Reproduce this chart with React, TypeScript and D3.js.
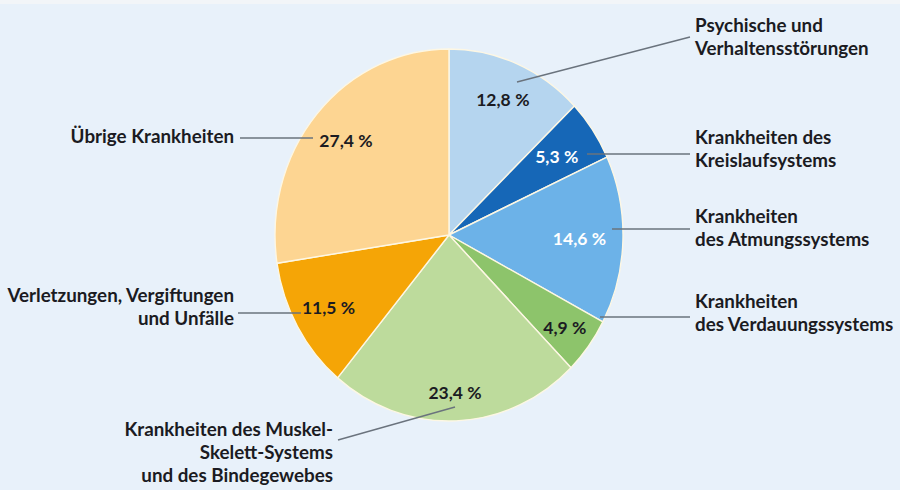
import React, { useEffect, useRef } from 'react';
import * as d3 from 'd3';

// Share of sick-leave days by diagnosis group, clockwise from 12 o'clock
const categories = [
  'Psychische und Verhaltensstörungen',
  'Krankheiten des Kreislaufsystems',
  'Krankheiten des Atmungssystems',
  'Krankheiten des Verdauungssystems',
  'Krankheiten des Muskel-Skelett-Systems und des Bindegewebes',
  'Verletzungen, Vergiftungen und Unfälle',
  'Übrige Krankheiten',
];
const shares = [12.8, 5.3, 14.6, 4.9, 23.4, 11.5, 27.4];
const colors = ['#b5d5ef', '#1667b7', '#6cb2e8', '#8dc46b', '#bddb9c', '#f5a506', '#fdd592'];

// how the category names are broken into lines
const labelLines = [
  ['Psychische und', 'Verhaltensstörungen'],
  ['Krankheiten des', 'Kreislaufsystems'],
  ['Krankheiten', 'des Atmungssystems'],
  ['Krankheiten', 'des Verdauungssystems'],
  ['Krankheiten des Muskel-', 'Skelett-Systems', 'und des Bindegewebes'],
  ['Verletzungen, Vergiftungen', 'und Unfälle'],
  ['Übrige Krankheiten'],
];

const W = 900;
const H = 490;
const cx = 449;
const cy = 235;
const ry = 186;
const rx = 174;
const sx = rx / ry;

// annotation layout: text anchor + leader line
const layout = [
  { anchor: 'start', x: 695, y: 32, line: [[517, 82], [690, 37]], pr: 0.79, light: false },
  { anchor: 'start', x: 695, y: 144, line: [[587, 154], [690, 154]], pr: 0.75, light: true },
  { anchor: 'start', x: 695, y: 223, line: [[612, 229], [690, 229]], pr: 0.75, light: true },
  { anchor: 'start', x: 695, y: 308, line: [[600, 317], [690, 317]], pr: 0.83, light: false },
  { anchor: 'end', x: 333, y: 436, line: [[338, 440], [455, 407]], pr: 0.85, light: false },
  { anchor: 'end', x: 234, y: 302, line: [[238, 313], [301, 313]], pr: 0.795, light: false },
  { anchor: 'end', x: 234, y: 143, line: [[240, 138], [313, 138]], pr: 0.78, light: false },
];

const fmt = (v: number) => v.toFixed(1).replace('.', ',') + '\u202F%';

const App: React.FC = () => {
  const svgRef = useRef<SVGSVGElement>(null);

  useEffect(() => {
    if (!svgRef.current) return;
    const svg = d3.select(svgRef.current);
    svg.selectAll('*').remove();

    svg.append('rect').attr('width', W).attr('height', H).attr('fill', '#e8f1fa');
    svg.append('rect').attr('width', W).attr('height', 4).attr('fill', '#f2f5f8');

    const data = shares.map((v, i) => ({ v, i }));
    const pie = d3.pie<{ v: number; i: number }>().sort(null).value(d => d.v);
    const arcs = pie(data);
    const arc = d3.arc<d3.PieArcDatum<{ v: number; i: number }>>().innerRadius(0).outerRadius(ry);

    const g = svg.append('g').attr('transform', `translate(${cx},${cy}) scale(${sx},1)`);
    g.selectAll('path')
      .data(arcs)
      .enter()
      .append('path')
      .attr('d', arc)
      .attr('fill', d => colors[d.data.i])
      .attr('stroke', '#fdf7e4')
      .attr('stroke-width', 1.4)
      .attr('stroke-linejoin', 'round')
      .attr('vector-effect', 'non-scaling-stroke');

    // leader lines
    svg.selectAll('line.leader')
      .data(layout)
      .enter()
      .append('line')
      .attr('class', 'leader')
      .attr('x1', d => d.line[0][0])
      .attr('y1', d => d.line[0][1])
      .attr('x2', d => d.line[1][0])
      .attr('y2', d => d.line[1][1])
      .attr('stroke', '#6a737d')
      .attr('stroke-width', 1.3);

    // percent values inside the slices
    svg.selectAll('text.pct')
      .data(arcs)
      .enter()
      .append('text')
      .attr('class', 'pct')
      .attr('transform', d => {
        const a = (d.startAngle + d.endAngle) / 2;
        const r = ry * layout[d.data.i].pr;
        return `translate(${cx + Math.sin(a) * r * sx},${cy - Math.cos(a) * r})`;
      })
      .attr('text-anchor', 'middle')
      .attr('dy', '0.36em')
      .attr('font-family', 'Lato, "Open Sans", sans-serif')
      .attr('font-weight', 700)
      .attr('font-size', 17.5)
      .attr('letter-spacing', -0.3)
      .attr('fill', d => (layout[d.data.i].light ? '#ffffff' : '#1b1b22'))
      .text(d => fmt(d.data.v));

    // category labels
    const lab = svg.selectAll('text.lab')
      .data(categories)
      .enter()
      .append('text')
      .attr('class', 'lab')
      .attr('text-anchor', (_, i) => layout[i].anchor)
      .attr('font-family', 'Lato, "Open Sans", sans-serif')
      .attr('font-weight', 700)
      .attr('font-size', 18.8)
      .attr('fill', '#1b1b22');

    lab.each(function (_, i) {
      d3.select(this)
        .selectAll('tspan')
        .data(labelLines[i])
        .enter()
        .append('tspan')
        .attr('x', layout[i].x)
        .attr('y', (_, k) => layout[i].y + k * 23)
        .text(t => t);
    });
  }, []);

  return (
    <div style={{ position: 'fixed', left: 0, top: 0, width: W, height: H }}>
      <svg ref={svgRef} width={W} height={H} style={{ display: 'block' }} />
    </div>
  );
};

export default App;
